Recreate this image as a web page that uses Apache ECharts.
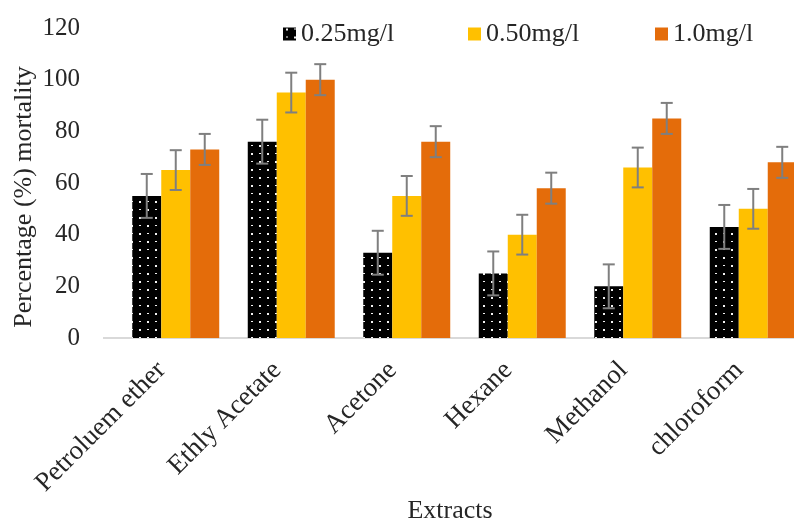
<!DOCTYPE html>
<html><head><meta charset="utf-8">
<script src="https://cdn.jsdelivr.net/npm/echarts@6.0.0/dist/echarts.min.js"></script>
<style>html,body{margin:0;padding:0;background:#fff}#c{width:794px;height:519px}</style>
</head><body><div id="c"></div>
<script>
const categories = ['Petroluem ether', 'Ethly Acetate', 'Acetone', 'Hexane', 'Methanol', 'chloroform'];
const seriesNames = ['0.25mg/l', '0.50mg/l', '1.0mg/l'];
const values025 = [55, 76, 33, 25, 20, 43];
const values050 = [65, 95, 55, 40, 66, 50];
const values100 = [73, 100, 76, 58, 85, 68];
const err025 = [8.5, 8.5, 8.5, 8.5, 8.5, 8.5];
const err050 = [7.7, 7.7, 7.7, 7.7, 7.7, 7.7];
const err100 = [6, 6, 6, 6, 6, 6];
const yTicks = [0, 20, 40, 60, 80, 100, 120];

const FONT = 'Liberation Serif, Times New Roman, serif';
const TXT = '#262626';
const GAP = 0.247;

// dotted pattern for black bars (alternating dots and dashes on an 8px grid)
const pc = document.createElement('canvas');
pc.width = 16; pc.height = 16;
const g = pc.getContext('2d');
g.fillStyle = '#000'; g.fillRect(0, 0, 16, 16);
g.fillStyle = '#f2f2f2';
g.fillRect(3, 1, 2, 2);
g.fillRect(11, 9, 2, 2);
g.fillRect(11, 1, 2, 1);
g.fillRect(3, 9, 2, 1);
const blackPattern = { image: pc, repeat: 'repeat' };

const colors = [blackPattern, '#FFC000', '#E46C0A'];
const vals = [values025, values050, values100];
const errs = [err025, err050, err100];

function makeErr(si) {
  return function (params, api) {
    const ci = api.value(0), v = api.value(1), e = api.value(2);
    const band = api.size([1, 0])[0];
    const bw = band * (1 - GAP) / 3;
    const c = api.coord([ci, v]);
    const x = c[0] + (si - 1) * bw;
    const top = api.coord([ci, v + e])[1];
    const bot = api.coord([ci, v - e])[1];
    const cap = 6;
    const st = { stroke: '#7f7f7f', lineWidth: 2 };
    return {
      type: 'group', children: [
        { type: 'line', shape: { x1: x, y1: top, x2: x, y2: bot }, style: st },
        { type: 'line', shape: { x1: x - cap, y1: top, x2: x + cap, y2: top }, style: st },
        { type: 'line', shape: { x1: x - cap, y1: bot, x2: x + cap, y2: bot }, style: st }
      ]
    };
  };
}

const series = [];
for (let i = 0; i < 3; i++) {
  series.push({
    name: seriesNames[i], type: 'bar', data: vals[i],
    barGap: '0%', barCategoryGap: (GAP * 100) + '%',
    itemStyle: { color: colors[i] }, z: 2
  });
}
for (let i = 0; i < 3; i++) {
  series.push({
    type: 'custom', renderItem: makeErr(i), z: 5,
    encode: { x: 0, y: 1 },
    data: vals[i].map((v, k) => [k, v, errs[i][k]])
  });
}

const legendBase = {
  top: 21, padding: 0, icon: 'rect', itemWidth: 13, itemHeight: 13, itemGap: 0,
  textStyle: { fontFamily: FONT, fontSize: 26, color: TXT }
};
const chart = echarts.init(document.getElementById('c'), null, { renderer: 'canvas' });
chart.setOption({
  animation: false,
  backgroundColor: '#fff',
  grid: { left: 118, top: 28, width: 693, height: 310, containLabel: false, outerBoundsMode: 'none' },
  legend: [
    Object.assign({ left: 283, data: [seriesNames[0]] }, legendBase),
    Object.assign({ left: 468, data: [seriesNames[1]] }, legendBase),
    Object.assign({ left: 655, data: [seriesNames[2]] }, legendBase)
  ],
  xAxis: {
    type: 'category', data: categories,
    axisLine: { show: false }, axisTick: { show: false },
    axisLabel: { rotate: 45, margin: 14, padding: [0, 20, 0, 0], fontFamily: FONT, fontSize: 27, color: TXT, interval: 0 }
  },
  yAxis: {
    type: 'value', min: yTicks[0], max: yTicks[yTicks.length - 1], interval: 20,
    axisLine: { show: false }, axisTick: { show: false }, splitLine: { show: false },
    axisLabel: { margin: 38, fontFamily: FONT, fontSize: 25, color: TXT }
  },
  series: series
});

const y0 = chart.convertToPixel({ yAxisIndex: 0 }, 0);
chart.setOption({
  graphic: [
    { type: 'line', shape: { x1: 103, y1: y0, x2: 794, y2: y0 }, style: { stroke: '#d9d9d9', lineWidth: 2 }, z: 1 },
    { type: 'text', x: 24, y: 197, rotation: Math.PI / 2,
      style: { text: 'Percentage (%) mortality', font: '26px ' + FONT, fill: TXT, align: 'center', verticalAlign: 'middle' } },
    { type: 'text', x: 450, y: 511,
      style: { text: 'Extracts', font: '26px ' + FONT, fill: TXT, align: 'center', verticalAlign: 'middle' } }
  ]
});
</script>
</body></html>
